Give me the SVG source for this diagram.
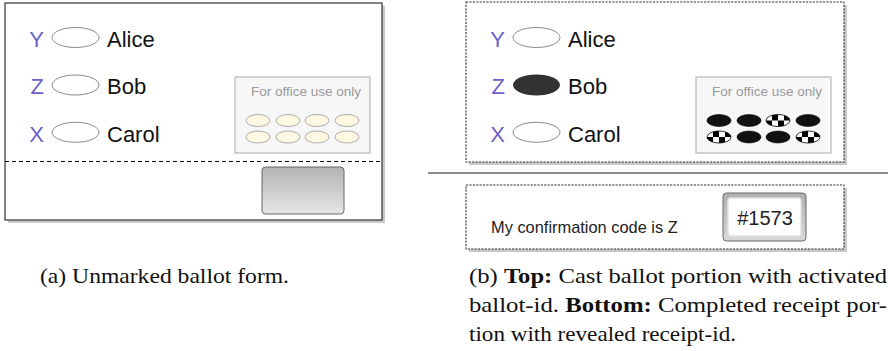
<svg xmlns="http://www.w3.org/2000/svg" width="888" height="351" viewBox="0 0 888 351">
<style>
.bg{fill:#fff}
.shadow{fill:#c9c9c9}
.letter{font-family:"Liberation Sans",Arial,sans-serif;font-size:22px;fill:#6a5fc9;text-anchor:end}
.name{font-family:"Liberation Sans",Arial,sans-serif;font-size:22px;fill:#111}
.bub{fill:#fff;stroke:#8a8a8a;stroke-width:1}
.office{fill:#f7f7f7;stroke:#aaa;stroke-width:1}
.otext{font-family:"Liberation Sans",Arial,sans-serif;font-size:13.5px;fill:#9a9a9a;text-anchor:middle}
.sb{fill:#fdf9e2;stroke:#999;stroke-width:0.8}
.blk{fill:#111;stroke:#000;stroke-width:0.6}
.chk{fill:url(#chk);stroke:#000;stroke-width:0.8}
.dash{fill:#fff;stroke:#333;stroke-width:1.1;stroke-dasharray:2.2 1.2}
.cap{font-family:"Liberation Serif","Times New Roman",serif;font-size:21px;fill:#111}
</style>
<defs>
<linearGradient id="btn" x1="0" y1="0" x2="0" y2="1">
<stop offset="0" stop-color="#b3b3b3"/>
<stop offset="1" stop-color="#e6e6e6"/>
</linearGradient>
<linearGradient id="code" x1="0" y1="0" x2="0" y2="1">
<stop offset="0" stop-color="#b0b0b0"/>
<stop offset="1" stop-color="#d8d8d8"/>
</linearGradient>
<pattern id="chk" patternUnits="objectBoundingBox" patternContentUnits="objectBoundingBox" width="0.5" height="1">
<rect x="0" y="0" width="0.5" height="1" fill="#fff"/>
<rect x="0.25" y="0" width="0.25" height="0.5" fill="#000"/>
<rect x="0" y="0.5" width="0.25" height="0.5" fill="#000"/>
</pattern>
<filter id="soft" x="-10%" y="-20%" width="120%" height="140%">
<feGaussianBlur stdDeviation="0.6"/>
</filter>
</defs>

<g id="panel-a">
<rect class="shadow" x="8" y="6" width="377" height="217"/>
<rect x="5" y="3" width="377" height="217" fill="#fff" stroke="#333" stroke-width="1.2"/>
<line x1="5" y1="161.5" x2="382" y2="161.5" stroke="#000" stroke-width="1" stroke-dasharray="4 3"/>
<text class="letter" x="44" y="46.5">Y</text>
<ellipse class="bub" cx="75.5" cy="37.5" rx="23.5" ry="10"/>
<text class="name" x="107" y="46.5">Alice</text>
<text class="letter" x="44" y="94">Z</text>
<ellipse class="bub" cx="75.5" cy="85" rx="23.5" ry="10"/>
<text class="name" x="107" y="94">Bob</text>
<text class="letter" x="44" y="141.5">X</text>
<ellipse class="bub" cx="75.5" cy="132.3" rx="23.5" ry="10"/>
<text class="name" x="107" y="141.5">Carol</text>
<rect class="office" x="235" y="77" width="135" height="76"/>
<text class="otext" x="306" y="96">For office use only</text>
<ellipse class="sb" cx="258" cy="120.5" rx="12" ry="6"/>
<ellipse class="sb" cx="288" cy="120.5" rx="12" ry="6"/>
<ellipse class="sb" cx="317" cy="120.5" rx="12" ry="6"/>
<ellipse class="sb" cx="347" cy="120.5" rx="12" ry="6"/>
<ellipse class="sb" cx="258" cy="137" rx="12" ry="6"/>
<ellipse class="sb" cx="288" cy="137" rx="12" ry="6"/>
<ellipse class="sb" cx="317" cy="137" rx="12" ry="6"/>
<ellipse class="sb" cx="347" cy="137" rx="12" ry="6"/>
<rect x="262" y="167" width="82" height="47" rx="3.5" fill="url(#btn)" stroke="#666" stroke-width="1"/>
</g>

<g id="panel-b-top">
<rect class="shadow" x="469" y="5" width="378" height="160"/>
<rect class="dash" x="466" y="2" width="378" height="160"/>
<text class="letter" x="505" y="46.5">Y</text>
<ellipse class="bub" cx="536.5" cy="37.5" rx="23.5" ry="10"/>
<text class="name" x="568" y="46.5">Alice</text>
<text class="letter" x="505" y="94">Z</text>
<ellipse cx="536.5" cy="85" rx="23.5" ry="10.5" fill="#333" filter="url(#soft)"/>
<text class="name" x="568" y="94">Bob</text>
<text class="letter" x="505" y="141.5">X</text>
<ellipse class="bub" cx="536.5" cy="132.3" rx="23.5" ry="10"/>
<text class="name" x="568" y="141.5">Carol</text>
<rect class="office" x="696" y="77" width="135" height="76"/>
<text class="otext" x="767" y="96">For office use only</text>
<ellipse class="blk" cx="719" cy="120.5" rx="12" ry="6"/>
<ellipse class="blk" cx="749" cy="120.5" rx="12" ry="6"/>
<ellipse class="chk" cx="778" cy="120.5" rx="12" ry="6"/>
<ellipse class="blk" cx="808" cy="120.5" rx="12" ry="6"/>
<ellipse class="chk" cx="719" cy="137" rx="12" ry="6"/>
<ellipse class="blk" cx="749" cy="137" rx="12" ry="6"/>
<ellipse class="blk" cx="778" cy="137" rx="12" ry="6"/>
<ellipse class="chk" cx="808" cy="137" rx="12" ry="6"/>
</g>

<line id="separator" x1="428" y1="173" x2="888" y2="173" stroke="#666" stroke-width="1.5"/>

<g id="panel-b-bottom">
<rect class="shadow" x="469" y="188" width="378" height="64"/>
<rect class="dash" x="466" y="185" width="378" height="64"/>
<text x="491" y="233" font-family="Liberation Sans, Arial, sans-serif" font-size="16.4" fill="#222">My confirmation code is Z</text>
<rect x="723" y="193" width="83" height="48" rx="3.5" fill="url(#code)" stroke="#666" stroke-width="1"/>
<rect x="728" y="198" width="73" height="38" rx="3" fill="#fff" stroke="#e2e2e2" stroke-width="1.5"/>
<text x="765" y="225" font-family="Liberation Sans, Arial, sans-serif" font-size="20" fill="#222" text-anchor="middle">#1573</text>
</g>

<g id="captions">
<text class="cap" x="40" y="283" textLength="249" lengthAdjust="spacingAndGlyphs">(a) Unmarked ballot form.</text>
<text class="cap" x="469" y="283" textLength="418" lengthAdjust="spacingAndGlyphs">(b) <tspan font-weight="bold">Top:</tspan> Cast ballot portion with activated</text>
<text class="cap" x="469" y="312" textLength="418" lengthAdjust="spacingAndGlyphs">ballot-id. <tspan font-weight="bold">Bottom:</tspan> Completed receipt por-</text>
<text class="cap" x="469" y="341" textLength="267" lengthAdjust="spacingAndGlyphs">tion with revealed receipt-id.</text>
</g>
</svg>
